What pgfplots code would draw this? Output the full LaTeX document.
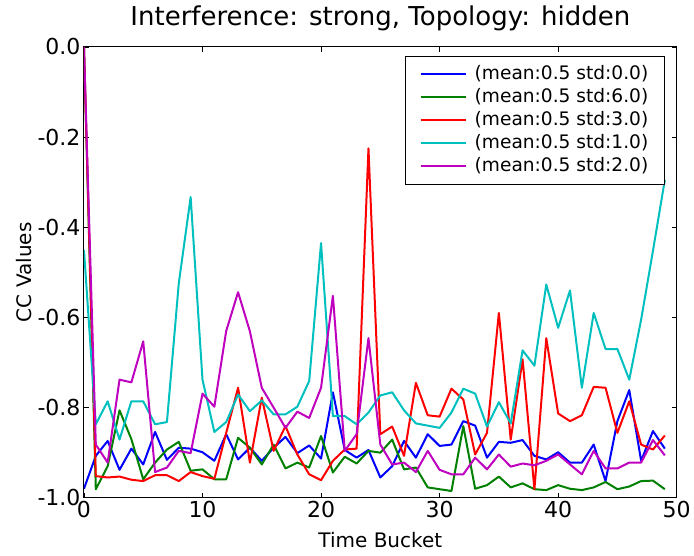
\documentclass[border=0pt]{standalone}
\usepackage{fontspec}
\setmainfont{DejaVu Sans}
\usepackage{pgfplots}
\usepackage{pgfplotstable}
\pgfplotsset{compat=1.18}
\definecolor{mblue}{rgb}{0,0,1}
\definecolor{mgreen}{rgb}{0,0.5,0}
\definecolor{mred}{rgb}{1,0,0}
\definecolor{mcyan}{rgb}{0,0.75,0.75}
\definecolor{mmagenta}{rgb}{0.75,0,0.75}
\pgfplotstableread{
x blue green red cyan magenta
0 -0.980 0.0 0.0 -0.450 0.0
1 -0.907 -0.981 -0.952 -0.837 -0.882
2 -0.874 -0.930 -0.955 -0.786 -0.922
3 -0.938 -0.806 -0.953 -0.871 -0.738
4 -0.891 -0.870 -0.960 -0.786 -0.744
5 -0.926 -0.959 -0.963 -0.786 -0.653
6 -0.854 -0.922 -0.950 -0.837 -0.943
7 -0.916 -0.893 -0.950 -0.832 -0.933
8 -0.889 -0.876 -0.963 -0.524 -0.896
9 -0.891 -0.940 -0.943 -0.333 -0.901
10 -0.899 -0.937 -0.952 -0.738 -0.769
11 -0.918 -0.959 -0.958 -0.854 -0.798
12 -0.859 -0.959 -0.856 -0.832 -0.630
13 -0.915 -0.867 -0.756 -0.771 -0.544
14 -0.889 -0.889 -0.922 -0.808 -0.631
15 -0.918 -0.926 -0.778 -0.784 -0.756
16 -0.889 -0.882 -0.896 -0.815 -0.800
17 -0.865 -0.935 -0.841 -0.815 -0.845
18 -0.901 -0.922 -0.904 -0.798 -0.809
19 -0.884 -0.933 -0.948 -0.741 -0.823
20 -0.913 -0.863 -0.961 -0.435 -0.756
21 -0.766 -0.944 -0.918 -0.819 -0.552
22 -0.894 -0.909 -0.893 -0.819 -0.896
23 -0.911 -0.924 -0.891 -0.837 -0.859
24 -0.894 -0.896 -0.225 -0.811 -0.646
25 -0.955 -0.900 -0.859 -0.773 -0.882
26 -0.930 -0.871 -0.842 -0.766 -0.926
27 -0.874 -0.937 -0.907 -0.806 -0.922
28 -0.911 -0.933 -0.745 -0.835 -0.943
29 -0.859 -0.977 -0.817 -0.840 -0.896
30 -0.885 -0.981 -0.820 -0.845 -0.938
31 -0.882 -0.985 -0.758 -0.811 -0.948
32 -0.830 -0.841 -0.782 -0.758 -0.948
33 -0.840 -0.980 -0.904 -0.769 -0.911
34 -0.911 -0.972 -0.856 -0.842 -0.937
35 -0.876 -0.953 -0.590 -0.788 -0.904
36 -0.878 -0.977 -0.871 -0.835 -0.931
37 -0.872 -0.968 -0.693 -0.673 -0.924
38 -0.907 -0.981 -0.981 -0.707 -0.928
39 -0.915 -0.983 -0.646 -0.527 -0.918
40 -0.899 -0.972 -0.813 -0.623 -0.904
41 -0.922 -0.980 -0.830 -0.540 -0.926
42 -0.922 -0.983 -0.817 -0.756 -0.948
43 -0.882 -0.977 -0.754 -0.590 -0.896
44 -0.963 -0.965 -0.756 -0.670 -0.935
45 -0.830 -0.981 -0.856 -0.670 -0.935
46 -0.761 -0.975 -0.786 -0.738 -0.922
47 -0.918 -0.963 -0.882 -0.605 -0.922
48 -0.852 -0.962 -0.893 -0.452 -0.872
49 -0.891 -0.981 -0.862 -0.295 -0.906
}\datatable
\begin{document}
\begin{tikzpicture}
\begin{axis}[
  scale only axis,
  width=593pt, height=451pt,
  xmin=0, xmax=50, ymin=-1, ymax=0,
  xtick={0,10,20,30,40,50},
  xticklabels={0,10,20,30,40,50},
  ytick={-1,-0.8,-0.6,-0.4,-0.2,0},
  yticklabels={-1.0,-0.8,-0.6,-0.4,-0.2,0.0},
  tick align=inside,
  major tick length=5pt,
  tick style={black, line width=0.8pt},
  axis line style={black, line width=1pt},
  tick label style={font=\fontsize{22}{26}\selectfont},
  title={Interference: strong, Topology: hidden},
  title style={font=\fontsize{26}{30}\selectfont, at={(axis description cs:0.5,1.0333)}, anchor=base},
  xlabel={Time Bucket},
  xlabel style={font=\fontsize{20}{24}\selectfont, at={(axis description cs:0.5,-0.1109)}, anchor=base},
  ylabel={CC Values},
  ylabel style={font=\fontsize{20}{24}\selectfont, at={(axis description cs:-0.0877,0.5)}, anchor=base},
  every axis plot/.append style={line width=2pt, line join=round},
  legend style={at={(axis description cs:1,1)}, anchor=north east, xshift=-12pt, yshift=-9pt,
    draw=black, line width=0.8pt, fill=white, inner xsep=14pt, inner ysep=7pt,
    font=\fontsize{18.6}{22}\selectfont, row sep=1pt, column sep=6pt,
    nodes={inner sep=2pt, text height=14pt, text depth=4pt}},
  legend cell align=left,
  legend image code/.code={\path (-13pt,0pt) -- (0pt,0pt); \draw[#1, line width=2pt] (0pt,0pt) -- (32pt,0pt);},
]
\addplot[mblue] table[x=x, y=blue] {\datatable};
\addlegendentry{(mean:0.5 std:0.0)}
\addplot[mgreen] table[x=x, y=green] {\datatable};
\addlegendentry{(mean:0.5 std:6.0)}
\addplot[mred] table[x=x, y=red] {\datatable};
\addlegendentry{(mean:0.5 std:3.0)}
\addplot[mcyan] table[x=x, y=cyan] {\datatable};
\addlegendentry{(mean:0.5 std:1.0)}
\addplot[mmagenta] table[x=x, y=magenta] {\datatable};
\addlegendentry{(mean:0.5 std:2.0)}
\end{axis}
\path ([xshift=-84pt,yshift=-58pt]current axis.south west) rectangle ([xshift=17pt,yshift=47pt]current axis.north east);
\end{tikzpicture}
\end{document}
